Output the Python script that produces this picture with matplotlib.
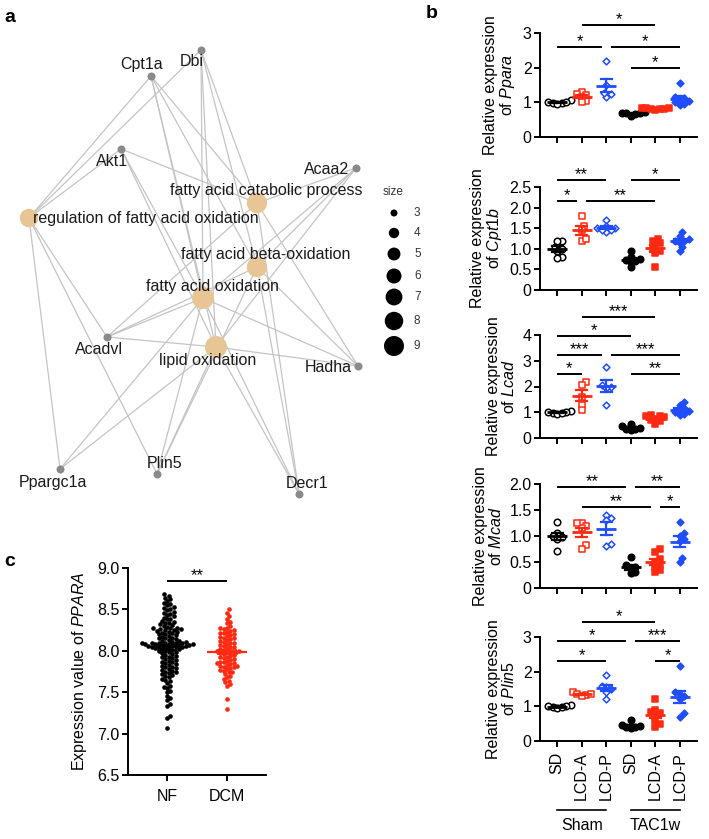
import numpy as np
import matplotlib
matplotlib.use('Agg')
import matplotlib.pyplot as plt
from matplotlib.ticker import FuncFormatter

plt.rcParams['font.family'] = ['Liberation Sans', 'DejaVu Sans']
plt.rcParams['mathtext.fontset'] = 'custom'
plt.rcParams['mathtext.rm'] = 'Liberation Sans'
plt.rcParams['mathtext.it'] = 'Liberation Sans:italic'
plt.rcParams['axes.linewidth'] = 1.4
plt.rcParams['xtick.major.width'] = 1.4
plt.rcParams['ytick.major.width'] = 1.4
plt.rcParams['xtick.major.size'] = 4
plt.rcParams['ytick.major.size'] = 4

W, H = 709, 839
RED = '#ff2a12'
BLUE = '#1f4dff'

# ---------------- panel a: gene-concept network ----------------
genes = ['Cpt1a', 'Dbi', 'Akt1', 'Acaa2', 'Acadvl', 'Hadha', 'Ppargc1a', 'Plin5', 'Decr1']
gene_x = [151, 201, 121, 356, 107, 358, 60, 157, 299]
gene_y = [76, 50, 149, 168, 337, 366, 469, 474, 494]
terms = ['regulation of fatty acid oxidation', 'fatty acid catabolic process',
         'fatty acid beta-oxidation', 'fatty acid oxidation', 'lipid oxidation']
term_x = [29, 257, 257, 203, 216]
term_y = [218, 203, 267, 298, 347]
term_size = [7, 8, 8, 9, 9]
term_genes = [
    ['Cpt1a', 'Dbi', 'Akt1', 'Acadvl', 'Ppargc1a', 'Plin5'],
    ['Cpt1a', 'Dbi', 'Akt1', 'Acaa2', 'Hadha', 'Decr1', 'Acadvl'],
    ['Cpt1a', 'Dbi', 'Acaa2', 'Hadha', 'Decr1', 'Acadvl', 'Plin5'],
    ['Cpt1a', 'Dbi', 'Akt1', 'Acaa2', 'Acadvl', 'Hadha', 'Ppargc1a', 'Plin5', 'Decr1'],
    ['Cpt1a', 'Dbi', 'Akt1', 'Acaa2', 'Acadvl', 'Hadha', 'Ppargc1a', 'Plin5', 'Decr1'],
]
legend_sizes = [3, 4, 5, 6, 7, 8, 9]

# label placement (layout)
gene_lab = {'Cpt1a': (142, 65), 'Dbi': (192, 62), 'Akt1': (112, 162), 'Acaa2': (327, 169),
            'Acadvl': (99, 350), 'Hadha': (328, 368), 'Ppargc1a': (53, 483),
            'Plin5': (165, 463), 'Decr1': (307, 483)}
term_lab = [(33, 218, 'left'), (266, 191, 'center'), (266, 254, 'center'),
            (212, 286, 'center'), (208, 360, 'center')]

# ---------------- panel b: qPCR ----------------
group_labels = ['SD', 'LCD-A', 'LCD-P', 'SD', 'LCD-A', 'LCD-P']
ppara = [[1.08, 1.02, 0.97, 0.98, 1.0, 0.96],
         [1.3, 1.25, 1.2, 1.15, 1.05, 1.0],
         [2.2, 1.25, 1.15, 1.27, 1.5],
         [0.72, 0.7, 0.68, 0.7, 0.66, 0.6],
         [0.84, 0.8, 0.85, 0.78, 0.83, 0.8, 0.82],
         [1.55, 1.12, 1.05, 0.95, 1.0, 1.15, 1.08, 0.93]]
cpt1b = [[1.2, 1.18, 1.0, 0.95, 0.8, 0.78, 1.05],
         [1.8, 1.55, 1.2, 1.25, 1.45],
         [1.7, 1.55, 1.5, 1.45, 1.4, 1.5, 1.45],
         [0.95, 0.8, 0.75, 0.7, 0.68, 0.55, 0.72],
         [1.25, 1.2, 1.1, 1.0, 0.95, 0.9, 0.55, 1.15],
         [1.4, 1.3, 1.25, 1.2, 1.15, 1.05, 0.95, 1.2]]
lcad = [[1.05, 1.0, 0.98, 0.95, 1.02, 0.97],
        [2.17, 2.07, 1.6, 1.28, 1.08],
        [2.75, 2.05, 2.0, 1.95, 1.3],
        [0.55, 0.45, 0.4, 0.35, 0.35, 0.3],
        [0.9, 0.85, 0.8, 0.75, 0.7, 0.65, 0.55, 0.85],
        [1.4, 1.3, 1.15, 1.1, 1.0, 0.95, 0.9, 1.05]]
mcad = [[1.27, 1.05, 1.0, 0.98, 0.95, 0.72],
        [1.25, 1.2, 1.15, 0.82, 0.75, 1.25],
        [1.4, 1.35, 1.3, 0.85, 0.8],
        [0.6, 0.45, 0.4, 0.38, 0.3, 0.28],
        [0.75, 0.7, 0.55, 0.5, 0.45, 0.4, 0.3, 0.35],
        [1.27, 1.05, 1.0, 0.95, 0.9, 0.5, 0.58]]
plin5 = [[1.05, 1.0, 0.98, 0.95, 1.0, 0.97],
         [1.4, 1.35, 1.32, 1.3, 1.35],
         [1.9, 1.6, 1.55, 1.5, 1.4, 1.2],
         [0.6, 0.45, 0.4, 0.42, 0.38, 0.4],
         [1.2, 0.9, 0.85, 0.8, 0.75, 0.6, 0.5, 0.4],
         [2.15, 1.4, 1.35, 1.3, 1.2, 0.8, 0.7]]
gene_names = ['Ppara', 'Cpt1b', 'Lcad', 'Mcad', 'Plin5']
ymaxes = [3, 2.5, 4, 2.0, 3]
ysteps = [1, 0.5, 1, 0.5, 1]
# (group i, group j, bar height, label)
ppara_sig = [(1, 4, 3.23, '*'), (0, 2, 2.6, '*'), (2, 5, 2.6, '*'), (3, 5, 2.0, '*')]
cpt1b_sig = [(0, 2, 2.67, '**'), (3, 5, 2.67, '*'), (0, 1, 2.16, '*'), (1, 4, 2.16, '**')]
lcad_sig = [(1, 4, 4.7, '***'), (0, 3, 3.96, '*'), (0, 2, 3.22, '***'), (2, 5, 3.22, '***'),
            (0, 1, 2.48, '*'), (3, 5, 2.48, '**')]
mcad_sig = [(0, 3, 1.94, '**'), (3, 5, 1.94, '**'), (1, 4, 1.56, '**'), (4, 5, 1.56, '*')]
plin5_sig = [(1, 4, 3.43, '*'), (0, 3, 2.88, '*'), (3, 5, 2.88, '***'), (0, 2, 2.3, '*'),
             (4, 5, 2.3, '*')]

# ---------------- panel c: PPARA expression ----------------
nf = [8.68, 8.66, 8.64, 8.62, 8.60, 8.58, 8.56, 8.55, 8.53, 8.52, 8.50, 8.49, 8.47, 8.46,
      8.45, 8.43, 8.42, 8.40, 8.39, 8.38, 8.36, 8.35, 8.34, 8.33, 8.32, 8.31, 8.30, 8.29,
      8.28, 8.27, 8.27, 8.26, 8.26, 8.25, 8.25, 8.24, 8.23, 8.23, 8.22, 8.21, 8.20, 8.20,
      8.19, 8.18, 8.17, 8.16, 8.15, 8.15, 8.14, 8.13, 8.12, 8.12, 8.11, 8.11, 8.10, 8.10,
      8.10, 8.09, 8.09, 8.09, 8.08, 8.08, 8.08, 8.08, 8.07, 8.07, 8.07, 8.06, 8.06, 8.06,
      8.05, 8.05, 8.05, 8.04, 8.04, 8.03, 8.03, 8.02, 8.02, 8.01, 8.00, 8.00, 7.99, 7.98,
      7.97, 7.96, 7.95, 7.94, 7.93, 7.92, 7.91, 7.90, 7.89, 7.88, 7.87, 7.86, 7.85, 7.84,
      7.83, 7.82, 7.81, 7.80, 7.79, 7.78, 7.77, 7.76, 7.75, 7.74, 7.73, 7.72, 7.71, 7.70,
      7.68, 7.66, 7.65, 7.63, 7.61, 7.58, 7.56, 7.55, 7.52, 7.50, 7.45, 7.43, 7.40, 7.36,
      7.33, 7.21, 7.19, 7.07]
dcm = [8.50, 8.46, 8.42, 8.38, 8.35, 8.33, 8.30, 8.28, 8.27, 8.26, 8.25, 8.24, 8.23, 8.22,
       8.21, 8.20, 8.19, 8.18, 8.17, 8.16, 8.15, 8.14, 8.13, 8.12, 8.11, 8.10, 8.09, 8.08,
       8.07, 8.06, 8.05, 8.04, 8.03, 8.02, 8.01, 8.00, 8.00, 7.99, 7.99, 7.98, 7.97, 7.96,
       7.95, 7.94, 7.93, 7.92, 7.91, 7.90, 7.89, 7.88, 7.87, 7.86, 7.85, 7.85, 7.84, 7.83,
       7.82, 7.82, 7.81, 7.80, 7.79, 7.78, 7.77, 7.76, 7.75, 7.74, 7.72, 7.70, 7.68, 7.66,
       7.64, 7.62, 7.60, 7.58, 7.42, 7.30]
c_labels = ['NF', 'DCM']


def fig_box(left, top, right, bottom):
    return [left / W, 1 - bottom / H, (right - left) / W, (bottom - top) / H]


def swarm(vals, diam, xsc, ysc):
    vals = np.asarray(vals, float)
    placed = []
    offs = np.zeros(len(vals))
    cands = [0.0]
    for k in range(1, 80):
        cands += [k * diam * 0.5, -k * diam * 0.5]
    for i in np.argsort(vals):
        y = vals[i] * ysc
        for c in cands:
            if all((c - px) ** 2 + (y - py) ** 2 >= diam ** 2 for px, py in placed):
                break
        placed.append((c, y))
        offs[i] = c / xsc
    return offs


def mean_sem(ax, x, vals, color, half, cap, lw):
    v = np.asarray(vals, float)
    m = v.mean()
    se = v.std(ddof=1) / np.sqrt(len(v))
    ax.plot([x - half, x + half], [m, m], color=color, lw=lw, zorder=4, solid_capstyle='butt')
    ax.plot([x, x], [m - se, m + se], color=color, lw=lw * 0.8, zorder=4)
    for yy in (m - se, m + se):
        ax.plot([x - cap, x + cap], [yy, yy], color=color, lw=lw * 0.8, zorder=4)


def sig_bars(ax, sig, fs=12):
    for i, j, lev, lab in sig:
        same = [s for s in sig if s[2] == lev]
        x0, x1 = i, j
        if any(s[1] == i for s in same):
            x0 += 0.18
        if any(s[0] == j for s in same):
            x1 -= 0.18
        ax.plot([x0, x1], [lev, lev], color='black', lw=1.4, clip_on=False,
                solid_capstyle='butt')
        ax.annotate(lab, ((x0 + x1) / 2, lev), xytext=(0, 0.5), textcoords='offset points',
                    ha='center', va='baseline', fontsize=fs, annotation_clip=False)


fig = plt.figure(figsize=(W / 100, H / 100), dpi=100)

# ---- panel a
axa = fig.add_axes([0, 0, 1, 1], zorder=0)
axa.set_xlim(0, W)
axa.set_ylim(H, 0)
axa.axis('off')
gpos = {g: (x, y) for g, x, y in zip(genes, gene_x, gene_y)}
for tx, ty, tg in zip(term_x, term_y, term_genes):
    for g in tg:
        gx, gy = gpos[g]
        axa.plot([tx, gx], [ty, gy], color='#c4c4c4', lw=0.9, zorder=1)


def size_to_diam(s):
    return np.sqrt(49 + (400 - 49) * (np.asarray(s, float) - 3) / 6)


axa.scatter(gene_x, gene_y, s=(8 * 0.72) ** 2, color='#8a8a8a', lw=0, zorder=2)
axa.scatter(term_x, term_y, s=(size_to_diam(term_size) * 1.1 * 0.72) ** 2,
            color='#e8c594', lw=0, zorder=2)
for g in genes:
    lx, ly = gene_lab[g]
    axa.text(lx, ly, g, ha='center', va='center', fontsize=11.5, color='#1a1a1a', zorder=3)
for t, (lx, ly, ha) in zip(terms, term_lab):
    axa.text(lx, ly, t, ha=ha, va='center', fontsize=11.5, color='#1a1a1a', zorder=3)
axa.text(393, 192, 'size', ha='center', va='center', fontsize=8.5, color='#333333')
leg_y = [213, 233, 254, 276, 297, 321, 346]
axa.scatter([394] * len(legend_sizes), leg_y, s=(size_to_diam(legend_sizes) * 0.72) ** 2,
            color='black', lw=0)
for s, y in zip(legend_sizes, leg_y):
    axa.text(414, y, str(s), ha='left', va='center', fontsize=8.5, color='#333333')

# ---- panel b
boxes = [(33, 137), (187, 290), (335, 438), (484, 588), (637, 741)]
datasets = [ppara, cpt1b, lcad, mcad, plin5]
sigs = [ppara_sig, cpt1b_sig, lcad_sig, mcad_sig, plin5_sig]
colors = ['black', RED, BLUE] * 2
markers = ['o', 's', 'D'] * 2
filled = [False] * 3 + [True] * 3
msize = [22, 20, 12] * 2

for k, (data, (top, bot)) in enumerate(zip(datasets, boxes)):
    ax = fig.add_axes(fig_box(540, top, 697, bot))
    ymax = ymaxes[k]
    ysc = (bot - top) / ymax
    for gi, vals in enumerate(data):
        xo = swarm(vals, 4.6, 24.6, ysc)
        c = colors[gi]
        ax.scatter(gi + xo, vals, s=msize[gi], marker=markers[gi],
                   facecolor=c if filled[gi] else 'white', edgecolor=c, lw=1.1, zorder=3,
                   clip_on=False)
        mean_sem(ax, gi, vals, c, 0.4, 0.22, 2.0)
    ax.set_xlim(-0.7, 5.7)
    ax.set_ylim(0, ymax)
    ax.set_yticks(np.arange(0, ymax + 1e-6, ysteps[k]))
    if ysteps[k] < 1:
        ax.yaxis.set_major_formatter(FuncFormatter(lambda v, p: '0' if v == 0 else f'{v:.1f}'))
    else:
        ax.yaxis.set_major_formatter(FuncFormatter(lambda v, p: f'{v:.0f}'))
    ax.set_xticks(range(6))
    if k == 4:
        ax.set_xticklabels(group_labels, rotation=90, fontsize=11.5)
    else:
        ax.set_xticklabels([])
    ax.tick_params(axis='y', labelsize=11.5, pad=2)
    ax.tick_params(axis='x', pad=4)
    for sp in ('top', 'right'):
        ax.spines[sp].set_visible(False)
    ax.set_ylabel('Relative expression\nof $\\it{' + gene_names[k] + '}$', fontsize=11.5,
                  labelpad=4, linespacing=1.0)
    sig_bars(ax, sigs[k])
    if k == 4:
        tr = ax.get_xaxis_transform()
        for (x0, x1, lab) in [(0, 2, 'Sham'), (3, 5, 'TAC1w')]:
            ax.plot([x0, x1], [-0.665, -0.665], color='black', lw=1.2, transform=tr,
                    clip_on=False)
            ax.text((x0 + x1) / 2, -0.81, lab, ha='center', va='center', fontsize=11.5,
                    transform=tr)

# ---- panel c
axc = fig.add_axes(fig_box(128, 568, 266, 775))
for gi, (vals, c) in enumerate(zip([nf, dcm], ['black', RED])):
    xo = swarm(vals, 3.4, 60, 82.8)
    axc.scatter(gi + xo, vals, s=11, color=c, lw=0, zorder=3)
    mean_sem(axc, gi, vals, c, 0.33, 0.15, 1.6)
axc.set_xlim(-0.65, 1.65)
axc.set_ylim(6.5, 9.0)
axc.set_yticks(np.arange(6.5, 9.01, 0.5))
axc.yaxis.set_major_formatter(FuncFormatter(lambda v, p: f'{v:.1f}'))
axc.set_xticks([0, 1])
axc.set_xticklabels(c_labels, fontsize=11.5)
axc.tick_params(axis='y', labelsize=11.5, pad=2)
axc.tick_params(axis='x', pad=6)
for sp in ('top', 'right'):
    axc.spines[sp].set_visible(False)
axc.set_ylabel('Expression value of $\\it{PPARA}$', fontsize=11.5, labelpad=6)
sig_bars(axc, [(0, 1, 8.84, '**')])

# panel letters
for lab, x, y in [('a', 10, 18), ('b', 432, 14), ('c', 10, 562)]:
    fig.text(x / W, 1 - y / H, lab, fontsize=14, fontweight='bold', ha='center', va='center')

fig.savefig('out.png', dpi=100)
